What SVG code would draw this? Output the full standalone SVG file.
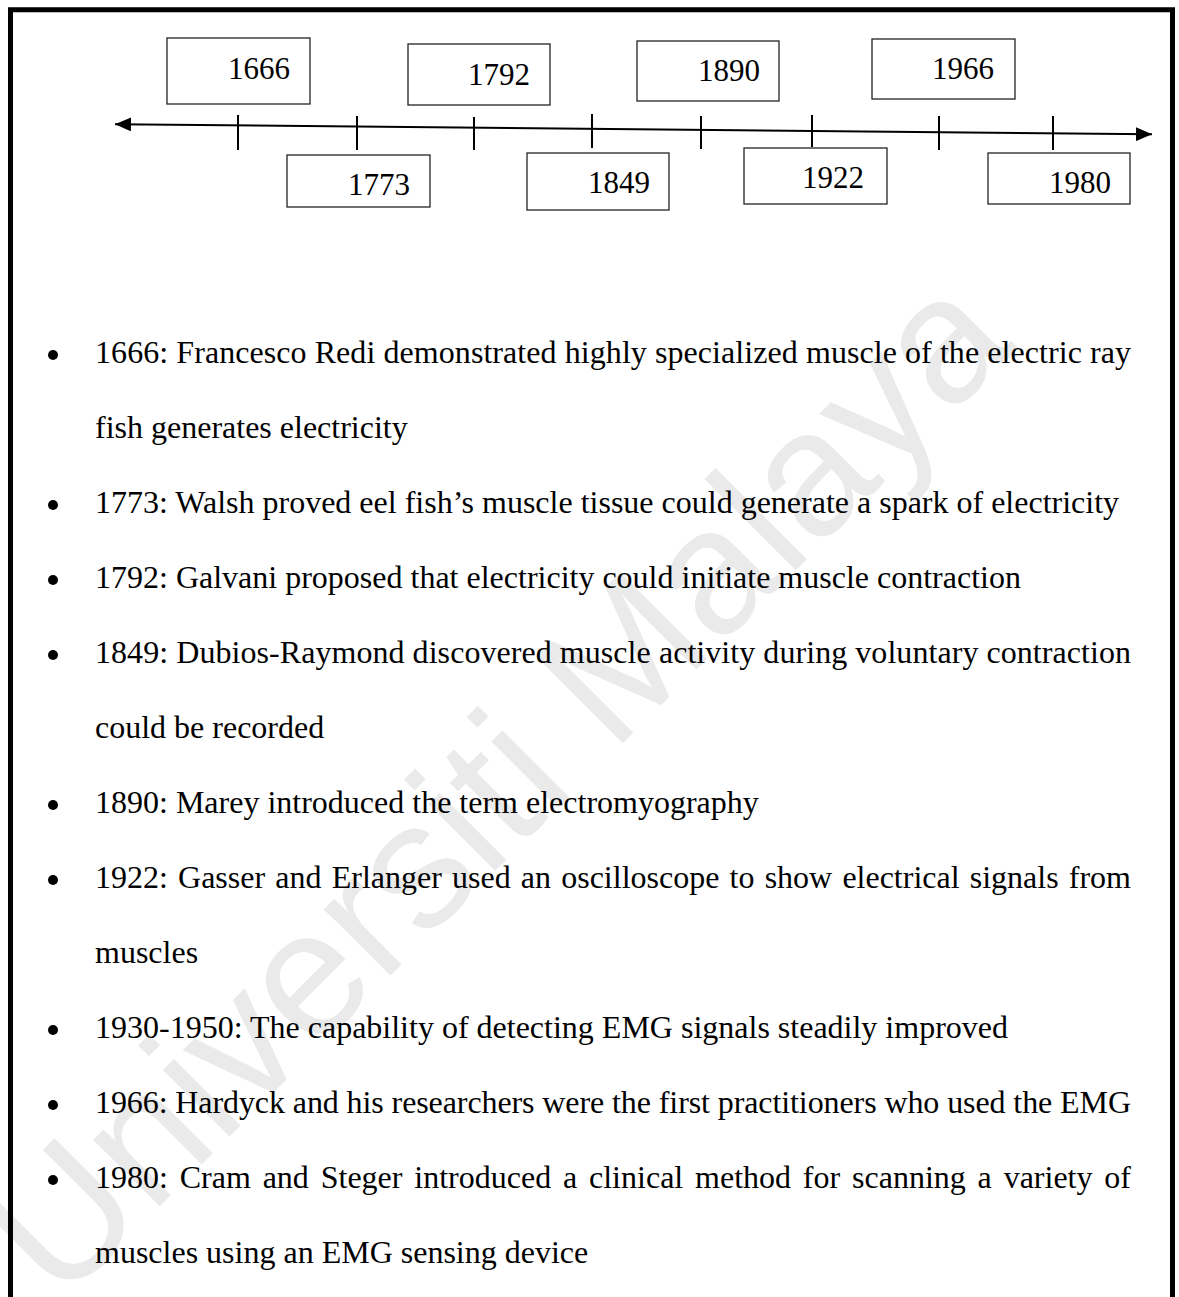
<svg xmlns="http://www.w3.org/2000/svg" width="1179" height="1297" viewBox="0 0 1179 1297">
<style>
.wm{font-family:"Liberation Sans",Arial,sans-serif;font-size:178px;fill:#eaeaea}
.box rect{fill:#fff;stroke:#222;stroke-width:1.3}
.box text{font-family:"Liberation Serif","Times New Roman",serif;font-size:31px;fill:#000}
.body{font-family:"Liberation Serif","Times New Roman",serif;font-size:32px;fill:#000}
.tick{stroke:#000;stroke-width:2}
.axis{stroke:#000;stroke-width:2;fill:none}
.bul{fill:#000}
</style>
<defs>
<marker id="ah" viewBox="0 0 16 14" refX="16" refY="7" markerWidth="16" markerHeight="14" markerUnits="userSpaceOnUse" orient="auto-start-reverse">
<path d="M0,0 L16,7 L0,14 z" fill="#000"/>
</marker>
</defs>
<rect x="0" y="0" width="1179" height="1297" fill="#fff"/>
<text class="wm" transform="translate(60,1306) rotate(-45)">Universiti Malaya</text>
<path d="M10.5,1300 V9.8 H1172.5 V1300" fill="none" stroke="#000" stroke-width="5"/>
<g id="connectors">
<line class="axis" x1="115" y1="124.2" x2="1152" y2="134.3" marker-start="url(#ah)" marker-end="url(#ah)"/>
<line class="tick" x1="238" y1="115" x2="238" y2="150"/>
<line class="tick" x1="357" y1="116" x2="357" y2="150"/>
<line class="tick" x1="474" y1="117" x2="474" y2="150"/>
<line class="tick" x1="592" y1="114" x2="592" y2="148"/>
<line class="tick" x1="701" y1="116" x2="701" y2="149"/>
<line class="tick" x1="812" y1="115" x2="812" y2="147"/>
<line class="tick" x1="939" y1="116" x2="939" y2="150"/>
<line class="tick" x1="1053" y1="116" x2="1053" y2="150"/>
</g>
<g id="y1666" class="box"><rect x="167" y="38" width="143" height="66"/><text x="228" y="79">1666</text></g>
<g id="y1773" class="box"><rect x="287" y="155" width="143" height="52"/><text x="348" y="195">1773</text></g>
<g id="y1792" class="box"><rect x="408" y="44" width="142" height="61"/><text x="468" y="85">1792</text></g>
<g id="y1849" class="box"><rect x="527" y="153" width="142" height="57"/><text x="588" y="193">1849</text></g>
<g id="y1890" class="box"><rect x="637" y="41" width="142" height="60"/><text x="698" y="81">1890</text></g>
<g id="y1922" class="box"><rect x="744" y="148" width="143" height="56"/><text x="802" y="188">1922</text></g>
<g id="y1966" class="box"><rect x="872" y="39" width="143" height="60"/><text x="932" y="79">1966</text></g>
<g id="y1980" class="box"><rect x="988" y="153" width="142" height="51"/><text x="1049" y="193">1980</text></g>
<g id="list">
<circle class="bul" cx="53" cy="355" r="5"/>
<circle class="bul" cx="53" cy="505" r="5"/>
<circle class="bul" cx="53" cy="580" r="5"/>
<circle class="bul" cx="53" cy="655" r="5"/>
<circle class="bul" cx="53" cy="805" r="5"/>
<circle class="bul" cx="53" cy="880" r="5"/>
<circle class="bul" cx="53" cy="1030" r="5"/>
<circle class="bul" cx="53" cy="1105" r="5"/>
<circle class="bul" cx="53" cy="1180" r="5"/>
<text class="body" x="95" y="363" textLength="1036" lengthAdjust="spacing">1666: Francesco Redi demonstrated highly specialized muscle of the electric ray</text>
<text class="body" x="95" y="438">fish generates electricity</text>
<text class="body" x="95" y="513">1773: Walsh proved eel fish’s muscle tissue could generate a spark of electricity</text>
<text class="body" x="95" y="588">1792: Galvani proposed that electricity could initiate muscle contraction</text>
<text class="body" x="95" y="663" textLength="1036" lengthAdjust="spacing">1849: Dubios-Raymond discovered muscle activity during voluntary contraction</text>
<text class="body" x="95" y="738">could be recorded</text>
<text class="body" x="95" y="813">1890: Marey introduced the term electromyography</text>
<text class="body" x="95" y="888" word-spacing="2.2" textLength="1036" lengthAdjust="spacing">1922: Gasser and Erlanger used an oscilloscope to show electrical signals from</text>
<text class="body" x="95" y="963">muscles</text>
<text class="body" x="95" y="1038">1930-1950: The capability of detecting EMG signals steadily improved</text>
<text class="body" x="95" y="1113" textLength="1036" lengthAdjust="spacing">1966: Hardyck and his researchers were the first practitioners who used the EMG</text>
<text class="body" x="95" y="1188" word-spacing="3.8" textLength="1036" lengthAdjust="spacing">1980: Cram and Steger introduced a clinical method for scanning a variety of</text>
<text class="body" x="95" y="1263">muscles using an EMG sensing device</text>
</g>
</svg>
